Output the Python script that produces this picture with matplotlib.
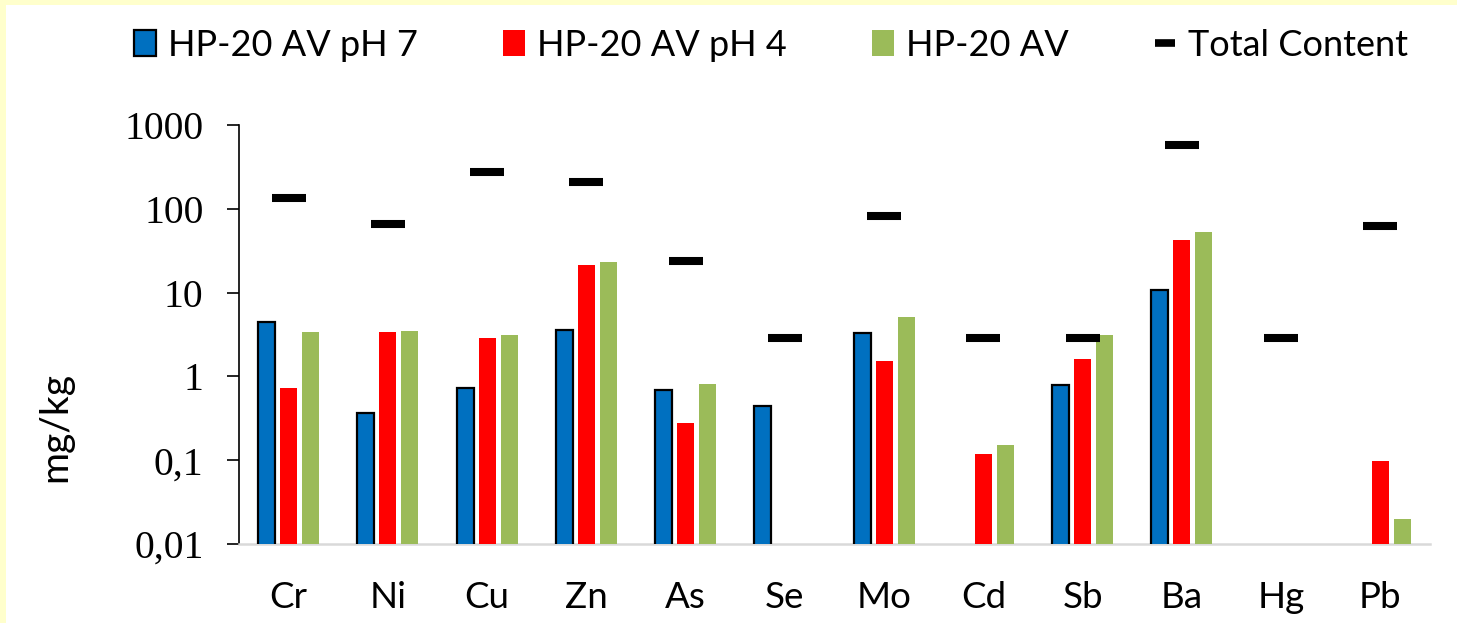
import matplotlib
matplotlib.use("Agg")
import matplotlib.pyplot as plt
import numpy as np
from matplotlib.lines import Line2D
from matplotlib.patches import Rectangle, Patch

categories = ["Cr", "Ni", "Cu", "Zn", "As", "Se", "Mo", "Cd", "Sb", "Ba", "Hg", "Pb"]
ph7 = [4.45, 0.37, 0.72, 3.6, 0.69, 0.44, 3.3, np.nan, 0.79, 10.8, np.nan, np.nan]
ph4 = [0.72, 3.4, 2.85, 21.5, 0.28, np.nan, 1.54, 0.12, 1.6, 42, np.nan, 0.099]
av = [3.4, 3.45, 3.1, 23.5, 0.81, np.nan, 5.1, 0.15, 3.1, 53, np.nan, 0.02]
total = [135, 66, 275, 210, 24, 2.9, 81, 2.9, 2.9, 580, 2.9, 62]
yticks = [0.01, 0.1, 1, 10, 100, 1000]
ytick_labels = ["0,01", "0,1", "1", "10", "100", "1000"]
series_names = ["HP-20 AV pH 7", "HP-20 AV pH 4", "HP-20 AV", "Total Content"]

W, H = 1457, 623
fig = plt.figure(figsize=(W / 100, H / 100), dpi=100)
fig.patch.set_facecolor("#FFFFCC")
bg = Rectangle((6 / W, 0), 1 - 6 / W, 1 - 5 / H, transform=fig.transFigure,
               facecolor="white", edgecolor="none", zorder=-10)
fig.patches.append(bg)

ax = fig.add_axes([239 / W, 1 - 544 / H, (1430 - 239) / W, (544 - 125) / H])
ax.set_facecolor("none")
x = np.arange(len(categories))
bw = 0.171
off = 0.222
ax.bar(x - off, ph7, bw, color="#0070C0", edgecolor="black", linewidth=1.6, zorder=3)
ax.bar(x, ph4, bw, color="#FF0000", edgecolor="none", zorder=3)
ax.bar(x + off, av, bw, color="#9BBB59", edgecolor="none", zorder=3)
ax.plot(x, total, ls="none", marker="_", ms=24.5, mew=5.8, color="black", zorder=4)

ax.set_yscale("log")
ax.set_ylim(0.01, 1000)
ax.set_xlim(-0.5, len(categories) - 0.5)
ax.set_yticks(yticks)
ax.set_yticklabels(ytick_labels, fontfamily="Liberation Serif", fontsize=28.5)
ax.yaxis.set_minor_locator(matplotlib.ticker.NullLocator())
ax.set_xticks(x)
ax.set_xticklabels(categories, fontfamily="Lato", fontsize=26.5)
ax.tick_params(axis="x", length=0, pad=27)
ax.tick_params(axis="y", length=8.6, width=1.2, direction="out", pad=17, color="black")
for s in ["top", "right"]:
    ax.spines[s].set_visible(False)
ax.spines["left"].set_color("black")
ax.spines["left"].set_linewidth(1.2)
ax.spines["bottom"].set_color("#D9D9D9")
ax.spines["bottom"].set_linewidth(1.8)

fig.text(55 / W, 1 - 427 / H, "mg/kg", rotation=90, ha="center", va="center",
         fontfamily="Lato", fontsize=28)

handles = [
    Patch(facecolor="#0070C0", edgecolor="black", linewidth=1.6),
    Patch(facecolor="#FF0000", edgecolor="none"),
    Patch(facecolor="#9BBB59", edgecolor="none"),
    Line2D([], [], ls="none", marker="_", ms=15, mew=5.5, color="black"),
]
fig.legend(handles, series_names, loc="center", bbox_to_anchor=(771 / W, 1 - 45 / H),
           ncol=4, frameon=False, prop={"family": "Lato", "size": 26},
           handlelength=0.6, handleheight=0.7, handletextpad=0.35, columnspacing=2.35)

fig.savefig("out.png", dpi=100, facecolor=fig.get_facecolor())
